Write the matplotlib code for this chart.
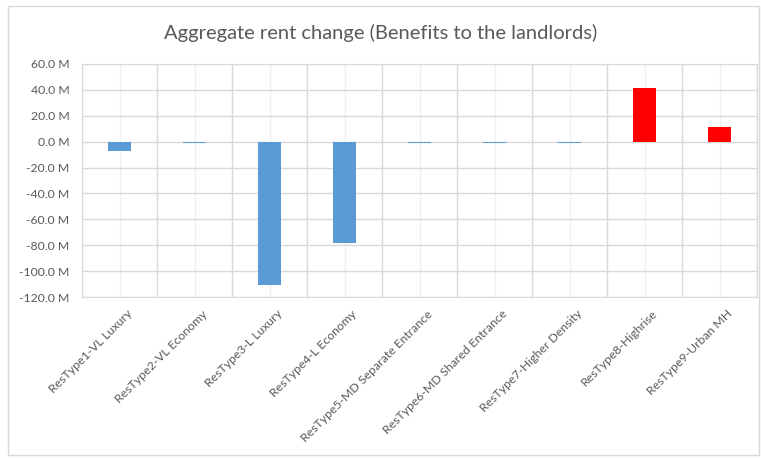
import numpy as np
import matplotlib.pyplot as plt
import matplotlib.transforms as mtransforms
from matplotlib.patches import Rectangle

plt.rcParams['font.family'] = ['Lato', 'DejaVu Sans']

categories = [
    "ResType1-VL Luxury",
    "ResType2-VL Economy",
    "ResType3-L Luxury",
    "ResType4-L Economy",
    "ResType5-MD Separate Entrance",
    "ResType6-MD Shared Entrance",
    "ResType7-Higher Density",
    "ResType8-Highrise",
    "ResType9-Urban MH",
]
# aggregate rent change, millions
rent_change = [-7.0, -0.8, -111.0, -78.5, -0.8, -0.8, -0.8, 41.5, 11.5]
y_ticks = [60, 40, 20, 0, -20, -40, -60, -80, -100, -120]

BLUE = "#5B9BD5"
RED = "#FF0000"
GRID = "#D9D9D9"
TEXT = "#595959"

fig = plt.figure(figsize=(7.61, 4.59), dpi=100)
fig.patches.append(Rectangle((8 / 761, 4 / 459), 1 - 8 / 761 - 0.002, 1 - 10 / 459,
                             transform=fig.transFigure, fill=False,
                             edgecolor="#D9D9D9", linewidth=1))
ax = fig.add_axes([82 / 761, 1 - 297 / 459, 675 / 761, 233 / 459])

x = np.arange(len(categories))
colors = [RED if v > 0 else BLUE for v in rent_change]
ax.bar(x, rent_change, width=0.31, color=colors, zorder=3)

ax.set_xlim(-0.5, len(categories) - 0.5)
ax.set_ylim(-120, 60)
ax.set_yticks(y_ticks)
ax.set_yticklabels([f"{v:.1f} M" for v in y_ticks])

# category borders and light centre lines
for b in np.arange(-0.5, len(categories), 1.0):
    ax.axvline(b, color=GRID, linewidth=1, zorder=1)
for c in x:
    ax.axvline(c, color="#F0F0F0", linewidth=1, zorder=1)
for v in y_ticks:
    ax.axhline(v, color=GRID, linewidth=1, zorder=1)

ax.set_xticks(x)
ax.set_xticklabels(categories, rotation=45, ha="right", rotation_mode="anchor")
ax.tick_params(axis="x", length=0, pad=8, labelsize=8.8, labelcolor=TEXT)
ax.tick_params(axis="y", length=0, pad=9, labelsize=8.8, labelcolor=TEXT)
shift = mtransforms.ScaledTranslation(7 / 100, 0, fig.dpi_scale_trans)
for lab in ax.get_xticklabels():
    lab.set_transform(lab.get_transform() + shift)
for s in ax.spines.values():
    s.set_color(GRID)

fig.text(0.5, 1 - 33 / 459, "Aggregate rent change (Benefits to the landlords)",
         ha="center", va="center", fontsize=14.5, color=TEXT)

fig.savefig("out.png", dpi=100)
